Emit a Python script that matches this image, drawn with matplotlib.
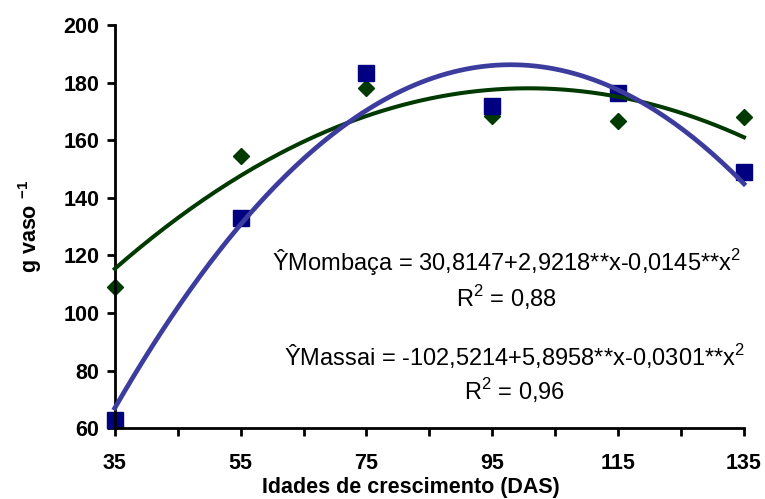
import numpy as np
import matplotlib
matplotlib.use("Agg")
import matplotlib.pyplot as plt

plt.rcParams['font.family'] = ['Liberation Sans', 'DejaVu Sans']
plt.rcParams['mathtext.fontset'] = 'custom'
plt.rcParams['mathtext.rm'] = 'Liberation Sans'
plt.rcParams['mathtext.bf'] = 'Liberation Sans:bold'

# Data
idades = [35, 55, 75, 95, 115, 135]
mombaca = [109, 154.5, 178, 168.5, 166.8, 168.2]
massai = [63, 133, 183.4, 172, 176.2, 148.8]

# fitted coefficients printed on the chart (a + b*x + c*x^2)
coef_mombaca = [30.8147, 2.9218, -0.0145]
coef_massai = [-102.5214, 5.8958, -0.0301]

eq_mombaca = "\u0176Mombaça = 30,8147+2,9218**x-0,0145**x$^{2}$"
r2_mombaca = "R$^{2}$ = 0,88"
eq_massai = "\u0176Massai = -102,5214+5,8958**x-0,0301**x$^{2}$"
r2_massai = "R$^{2}$ = 0,96"

green = '#003a00'
navy = '#000080'
blue_line = '#3c3c9e'

fig = plt.figure(figsize=(7.65, 4.99), dpi=100)
ax = fig.add_axes([0.150, 0.142, 0.8225, 0.808])

xs = np.linspace(min(idades), max(idades), 200)
def quad(c, x):
    return c[0] + c[1] * x + c[2] * x ** 2

ax.plot(idades, mombaca, 'D', color=green, markersize=8, zorder=2, clip_on=False)
ax.plot(idades, massai, 's', color=navy, markersize=12, zorder=2.5, clip_on=False)
ax.plot(xs, quad(coef_mombaca, xs), color=green, lw=2.9, zorder=3, clip_on=False)
ax.plot(xs, quad(coef_massai, xs), color=blue_line, lw=3.4, zorder=3.5, clip_on=False)

ax.set_xlim(35, 135)
ax.set_ylim(60, 200)
ax.set_xticks(idades)
ax.set_xticks([45, 65, 85, 105, 125], minor=True)
ax.set_yticks(range(60, 201, 20))

for s in ['top', 'right']:
    ax.spines[s].set_visible(False)
for s in ['left', 'bottom']:
    ax.spines[s].set_linewidth(2)

ax.tick_params(axis='both', which='both', direction='out', width=2, length=6)
ax.tick_params(axis='x', which='major', pad=12)
ax.tick_params(axis='y', pad=5)
for lab in ax.get_xticklabels() + ax.get_yticklabels():
    lab.set_fontsize(15.5)
    lab.set_fontweight('bold')

ax.set_xlabel('Idades de crescimento (DAS)', fontsize=15.5, fontweight='bold', va='center')
ax.xaxis.set_label_coords(0.47, -0.146)
ax.set_ylabel(r'g vaso $^{\mathbf{-1}}$', fontsize=15.5, fontweight='bold', va='center')
ax.yaxis.set_label_coords(-0.134, 0.5)

ax.text(97.3, 117.6, eq_mombaca, fontsize=17, ha='center', va='center')
ax.text(97.3, 105.5, r2_mombaca, fontsize=17, ha='center', va='center')
ax.text(98.5, 84.7, eq_massai, fontsize=17, ha='center', va='center')
ax.text(98.5, 73.2, r2_massai, fontsize=17, ha='center', va='center')

fig.savefig('out.png', dpi=100)
